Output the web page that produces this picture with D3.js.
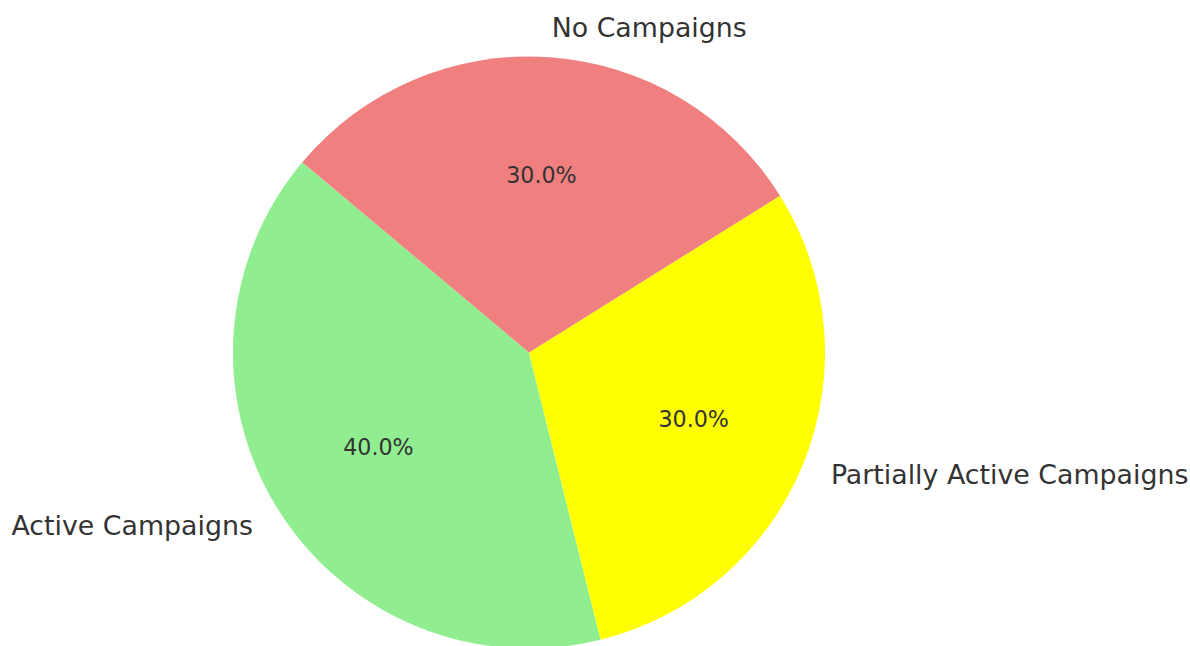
<!DOCTYPE html>
<html>
<head>
<meta charset="utf-8">
<script src="https://cdn.jsdelivr.net/npm/d3@7"></script>
<style>
  html, body { margin: 0; padding: 0; background: #ffffff; }
  svg { display: block; }
</style>
</head>
<body>
<svg id="chart" width="1190" height="646"></svg>
<script>
// Campaign status shares
const categories = ["Active Campaigns", "Partially Active Campaigns", "No Campaigns"];
const shares = [40, 30, 30];
const colors = ["#90EE90", "#FFFF00", "#F08080"];

const width = 1190, height = 646;
const cx = 529, cy = 352.5, radius = 296;
const startDeg = 140; // first slice begins here, counter-clockwise from 3 o'clock

const svg = d3.select("#chart");
const g = svg.append("g").attr("transform", `translate(${cx},${cy})`);

// Convert a counter-clockwise math angle (degrees) to d3's clockwise-from-12 radians
const toD3 = deg => (90 - deg) * Math.PI / 180;

const total = d3.sum(shares);
const angleScale = d3.scaleLinear().domain([0, total]).range([0, 360]);

let acc = 0;
const slices = shares.map((v, i) => {
  const a0 = startDeg + angleScale(acc);
  acc += v;
  const a1 = startDeg + angleScale(acc);
  return { name: categories[i], value: v, color: colors[i], a0, a1 };
});

const arc = d3.arc().innerRadius(0).outerRadius(radius);

g.selectAll("path.slice")
  .data(slices)
  .join("path")
  .attr("class", "slice")
  .attr("fill", d => d.color)
  // counter-clockwise sweep: start at a1 end at a0 in d3's clockwise system
  .attr("d", d => arc({ startAngle: toD3(d.a1), endAngle: toD3(d.a0) }));

const textColor = "#333333";
const font = "'DejaVu Sans', sans-serif";

// Percentage labels inside the wedges
g.selectAll("text.pct")
  .data(slices)
  .join("text")
  .attr("class", "pct")
  .each(function(d) {
    const mid = (d.a0 + d.a1) / 2 * Math.PI / 180;
    d3.select(this)
      .attr("x", 0.6 * radius * Math.cos(mid))
      .attr("y", -0.6 * radius * Math.sin(mid));
  })
  .attr("text-anchor", "middle")
  .attr("dominant-baseline", "central")
  .attr("font-family", font)
  .attr("font-size", 22.2)
  .attr("fill", textColor)
  .text(d => d3.format(".1f")(d.value / total * 100) + "%");

// Category labels outside the wedges
g.selectAll("text.lbl")
  .data(slices)
  .join("text")
  .attr("class", "lbl")
  .each(function(d) {
    const mid = (d.a0 + d.a1) / 2 * Math.PI / 180;
    const x = 1.1 * radius * Math.cos(mid);
    d3.select(this)
      .attr("x", x)
      .attr("y", -1.1 * radius * Math.sin(mid))
      .attr("text-anchor", x < 0 ? "end" : "start");
  })
  .attr("dominant-baseline", "central")
  .attr("font-family", font)
  .attr("font-size", 26.8)
  .attr("fill", textColor)
  .text(d => d.name);
</script>
</body>
</html>
